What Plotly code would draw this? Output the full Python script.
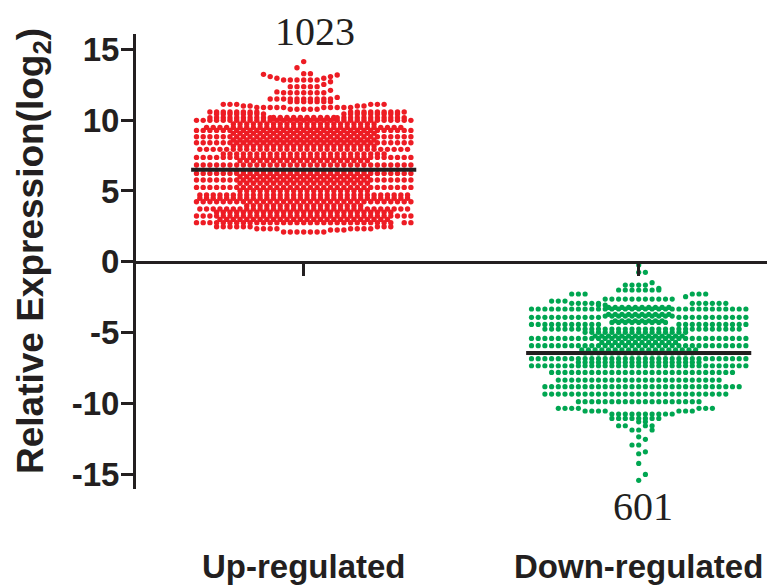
import plotly.graph_objects as go

categories = ["Up-regulated", "Down-regulated"]
counts = ["1023", "601"]
means = [6.5, -6.45]
y_ticks = [15, 10, 5, 0, -5, -10, -15]
y_tick_labels = ["15", "10", "5", "0", "-5", "-10", "-15"]

# swarm rows: expression level, first and last slot occupied in that row
up_level = [14.14, 13.71, 13.29, 13.24, 13.19, 13.08, 13.08, 12.96, 12.96, 12.84, 12.72, 12.53, 12.37, 12.11, 12.0, 11.94,
            11.61, 11.5, 11.31, 11.12, 11.12, 11.0, 11.0, 10.9, 10.9, 10.77, 10.58, 10.58, 10.44, 10.44,
            10.2, 10.1, 10.18, 10.18, 9.99, 9.73, 9.49, 9.28, 9.07, 8.83, 8.6, 8.41, 8.17, 7.94, 7.61, 7.37, 7.14,
            6.83, 6.43, 6.24, 6.01, 5.77, 5.54, 5.25, 5.02, 4.71, 4.48, 4.24, 3.96, 3.72, 3.49, 3.23, 2.99, 2.76,
            2.47, 2.33, 2.24, 2.33, 2.47, 2.1, 2.76, 2.76]
up_first = [0, -1, 0, -6, 5, -5, 4, -4, 3, -3, 4, 3, -2, 4, -4, -3,
            5, -5, -2, -12, 10, -9, 8, -7, 3, -2, -14, 7, -13, 6,
            -4.5, -4.5, -14, 5, -16, -10.5, -14.5, -16, -10.5, -16, -10.5, -16, -10.5, -15.5, -12, -16, -9.5,
            -16, -10, -16, -9.5, -16, -9.5, -16, -9.5, -15.5, -15.5, -16, -8.5, -15.5, -13, -16, -12.5, -13,
            -13, -7, 4, 7, 11, -3, -16, 15]
up_last = [0, -1, 1, -6, 5, -5, 4, -4, 3, 2, 4, 3, 2, 4, -4, 3,
           5, 4, 4, -10, 12, -8, 9, -3, 7, 2, -7, 15, -6, 14,
           4.5, 4.5, -5, 15, 16, 10.5, 14.5, 16, 10.5, 16, 10.5, 16, 10.5, 15.5, 12, 16, 9.5,
           16, 10, 16, 9.5, 16, 9.5, 16, 9.5, 15.5, 15.5, 16, 8.5, 15.5, 13, 16, 12.5, 13,
           -8, -4, 6, 10, 13, 3, -14, 16]

down_level = [-0.23, -0.75, -0.75, -1.48, -1.65, -1.88, -2.0, -2.0, -2.28, -2.28, -2.47, -2.64, -2.78, -2.94, -2.94, -3.06,
              -3.23, -3.34, -3.72, -3.84, -3.93, -3.93, -4.17, -4.29, -4.43, -4.43, -4.76, -4.99, -5.25, -5.42,
              -5.7, -5.93, -6.22, -6.45,
              -6.85, -7.11, -7.35, -7.82, -8.36, -8.83, -9.35, -9.89,
              -10.36, -10.36, -10.55, -10.55, -10.76, -11.07, -11.31, -11.59, -11.59, -11.89, -11.89, -12.37, -12.55, -12.95,
              -13.43, -13.57, -14.25, -15.03, -15.45]
down_first = [0, 0, 1, 2, -2, 3, -3, -2, -10, 8, 7, -5, -13, -10, 8, -6,
              -4.5, -16, -4.5, -5, -16, 6, -3.5, -4, -16, 6, -14, -8, -6.5, -16,
              -5.5, -16, -8.5, -8,
              -16, -9, -16, -13, -12, -14, -14, -9,
              -12, 9, -8, 6, -4, -4, 0, -3, 1, -1, 2, 0, 1, -1,
              1, 0, 0, 1, 0]
down_last = [0, 0, 1, 2, 1, 3, -3, 3, -8, 10, 7, 5, -11, -6, 13, -5,
             4.5, 16, 4.5, 5, -6, 16, 3.5, 4, -6, 16, 15, 7, 6.5, 16,
             5.5, 16, 8.5, 8,
             16, 9, 16, 14, 12, 15, 13, 9,
             -9, 11, -5, 8, 5, 3, 1, -2, 2, 0, 2, 0, 1, 0,
             1, 0, 0, 1, 0]

SLOT = 0.02


def swarm(center, levels, firsts, lasts):
    xs, ys = [], []
    for level, first, last in zip(levels, firsts, lasts):
        slot = first
        while slot <= last:
            xs.append(center + slot * SLOT)
            ys.append(level)
            slot += 1
    return xs, ys


ux, uy = swarm(1, up_level, up_first, up_last)
dx, dy = swarm(2, down_level, down_first, down_last)

INK = "#231f20"
fig = go.Figure()
fig.add_trace(go.Scatter(x=ux, y=uy, mode="markers", name=categories[0],
                         marker=dict(color="#ed1c24", size=5.4)))
fig.add_trace(go.Scatter(x=dx, y=dy, mode="markers", name=categories[1],
                         marker=dict(color="#00a651", size=5.2)))
for i, m in enumerate(means):
    fig.add_trace(go.Scatter(x=[i + 1 - 0.336, i + 1 + 0.336], y=[m, m], mode="lines",
                             line=dict(color=INK, width=4), hoverinfo="skip"))

label_font = dict(family="Liberation Sans", size=33, weight=700, color=INK)
count_font = dict(family="Liberation Serif", size=40, color=INK)
DOMAIN_W = 631
fig.update_layout(
    width=767, height=586, showlegend=False,
    paper_bgcolor="white", plot_bgcolor="white",
    margin=dict(l=136, r=0, t=34, b=97),
    font=dict(family="Liberation Sans", color=INK),
    xaxis=dict(range=[0.4994, 2.383], anchor="free", position=16.06 / 32.15,
               showline=True, linecolor=INK, linewidth=3, showgrid=False, zeroline=False,
               tickmode="array", tickvals=[1, 2], ticks="outside", ticklen=12, tickwidth=3,
               tickcolor=INK, showticklabels=False),
    yaxis=dict(range=[-16.06, 16.09], showline=True, linecolor=INK, linewidth=3,
               showgrid=False, zeroline=False, tickmode="array", tickvals=y_ticks,
               ticktext=y_tick_labels, ticks="outside", ticklen=12, tickwidth=3, tickcolor=INK,
               ticklabelstandoff=-5,
               tickfont=dict(family="Liberation Sans", size=33, weight=700, color=INK)),
    annotations=[
        dict(text="Relative Expression(log<sub>2</sub>)", xref="paper", yref="paper",
             x=-103 / DOMAIN_W, y=(489 - 251) / 455, textangle=-90, showarrow=False,
             xanchor="center", yanchor="middle",
             font=dict(family="Liberation Sans", size=37, weight=700, color=INK)),
        dict(text=categories[0], x=1, xref="x", yref="paper", y=(489 - 566) / 455, showarrow=False,
             xanchor="center", yanchor="middle", font=label_font),
        dict(text=categories[1], x=2, xref="x", yref="paper", y=(489 - 566) / 455, showarrow=False,
             xanchor="center", yanchor="middle", font=label_font),
        dict(text=counts[0], x=1.033, y=(489 - 31) / 455, xref="x", yref="paper", showarrow=False,
             xanchor="center", yanchor="middle", font=count_font),
        dict(text=counts[1], x=2.013, y=(489 - 506) / 455, xref="x", yref="paper", showarrow=False,
             xanchor="center", yanchor="middle", font=count_font),
    ],
)
fig.write_html("out.html", config={"displayModeBar": False},
               post_script="document.body.style.margin='0';document.documentElement.style.overflow='hidden';")
